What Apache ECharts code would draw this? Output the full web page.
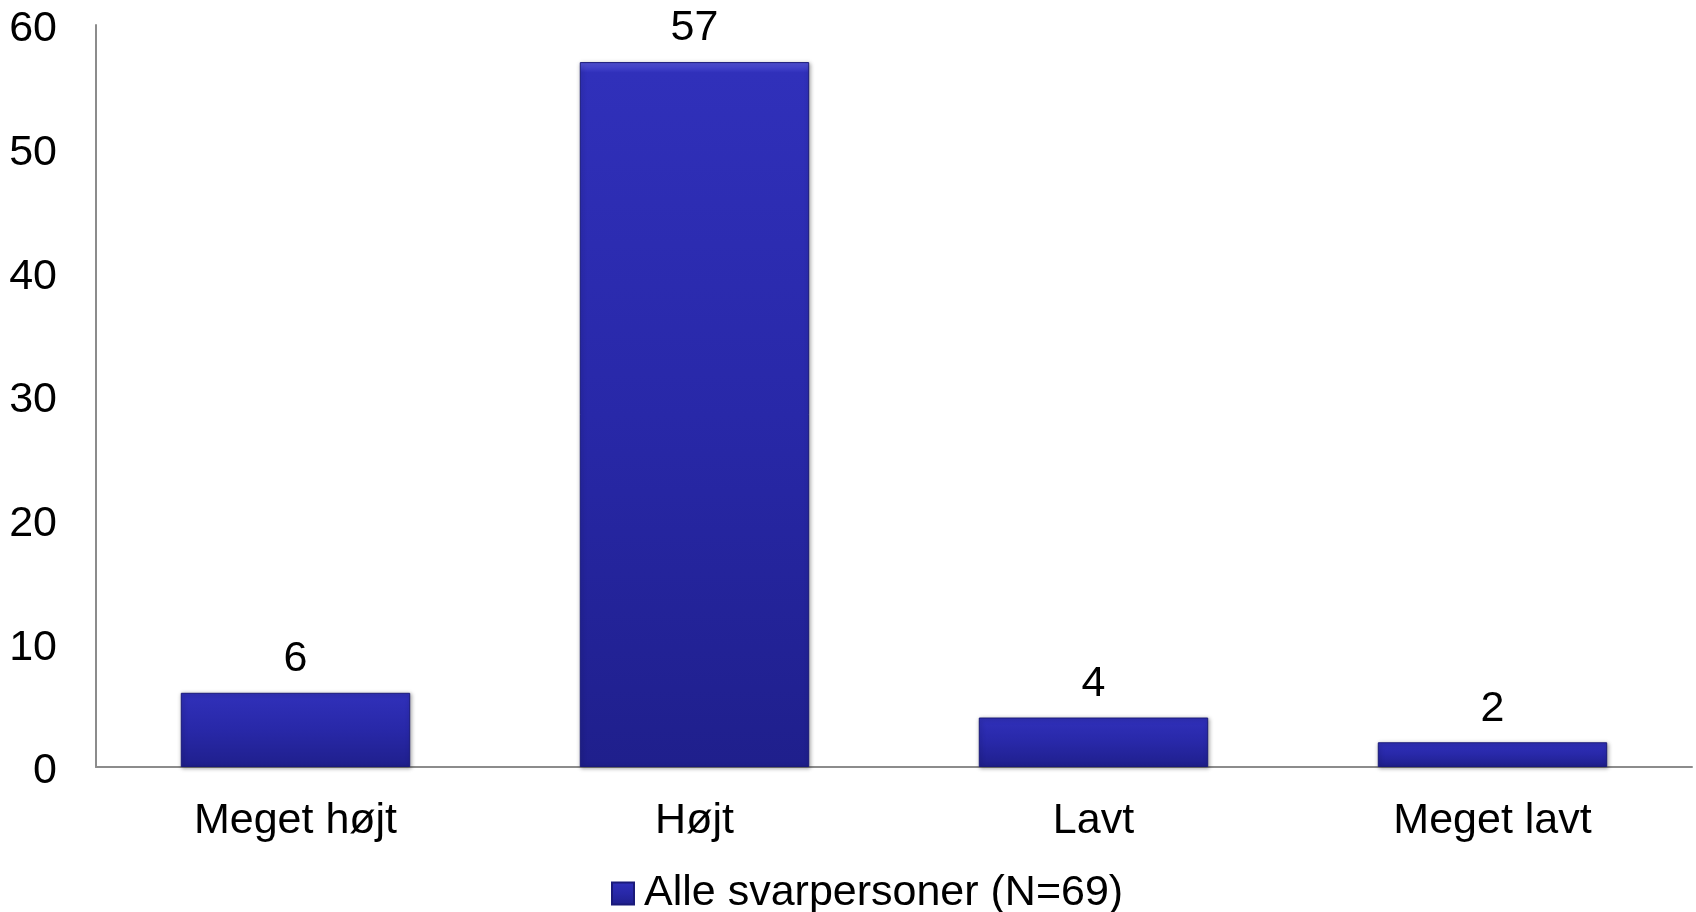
<!DOCTYPE html>
<html>
<head>
<meta charset="utf-8">
<script src="https://cdn.jsdelivr.net/npm/echarts@6/dist/echarts.min.js"></script>
<style>
html,body{margin:0;padding:0;background:#fff;}
#chart{width:1696px;height:912px;}
</style>
</head>
<body>
<div id="chart"></div>
<script>
const categories = ['Meget højt', 'Højt', 'Lavt', 'Meget lavt'];
const values = [6, 57, 4, 2];
const seriesName = 'Alle svarpersoner (N=69)';
const yTicks = [0, 10, 20, 30, 40, 50, 60];

const FONT = '"Liberation Sans", Arial, sans-serif';
const chart = echarts.init(document.getElementById('chart'), null, {renderer: 'canvas'});
const barFill = new echarts.graphic.LinearGradient(0, 0, 0, 1, [
  {offset: 0, color: '#5656dc'},
  {offset: 0.015, color: '#3030ba'},
  {offset: 0.5, color: '#2828a8'},
  {offset: 1, color: '#1f1f8c'}
]);
chart.setOption({
  animation: false,
  backgroundColor: '#ffffff',
  grid: {left: 96, right: 4, top: 25, bottom: 145, containLabel: false},
  legend: {
    data: [seriesName],
    bottom: -8,
    left: 606,
    itemWidth: 22, itemHeight: 22, itemGap: 10,
    icon: 'rect',
    textStyle: {fontFamily: FONT, fontSize: 43, color: '#000', padding: [0,0,0,5]}
  },
  xAxis: {
    type: 'category',
    data: categories,
    axisLine: {lineStyle: {color: '#8c8c8c', width: 2}},
    axisTick: {show: false},
    axisLabel: {fontFamily: FONT, fontSize: 43, color: '#000', margin: 33}
  },
  yAxis: {
    type: 'value',
    min: yTicks[0], max: yTicks[yTicks.length - 1], interval: 10,
    axisLine: {show: true, lineStyle: {color: '#8c8c8c', width: 2}},
    axisTick: {show: false},
    splitLine: {show: false},
    axisLabel: {fontFamily: FONT, fontSize: 43, color: '#000', margin: 39, verticalAlign: 'top', lineHeight: 9}
  },
  series: [{
    name: seriesName,
    type: 'bar',
    data: values,
    barWidth: '57.5%',
    itemStyle: {
      color: barFill,
      borderColor: '#1a1a7a',
      borderWidth: 1,
      shadowColor: 'rgba(0,0,0,0.35)',
      shadowBlur: 4,
      shadowOffsetX: 1,
      shadowOffsetY: 1
    },
    label: {
      show: true, position: 'top', distance: 12,
      fontFamily: FONT, fontSize: 43, color: '#000'
    }
  }]
});
</script>
</body>
</html>
